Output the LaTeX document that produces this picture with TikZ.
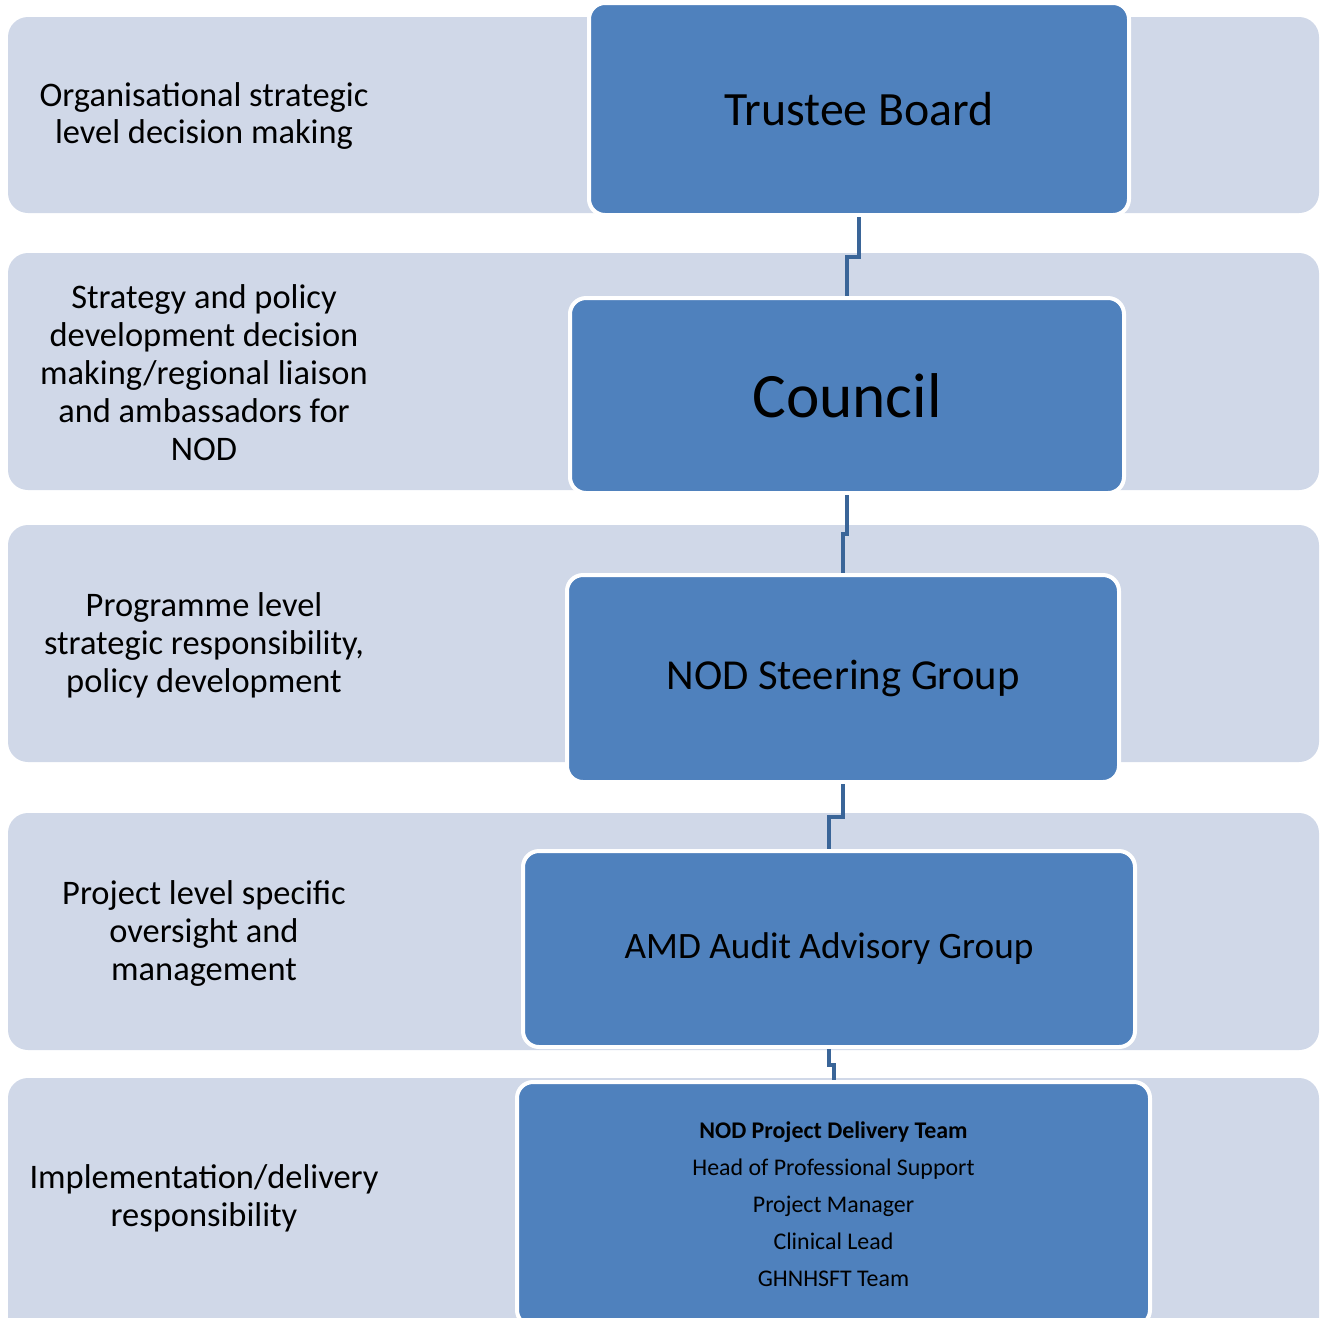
\documentclass[tikz,border=0pt]{standalone}
\usepackage{fontspec}
\setmainfont{Carlito}
\usepackage{xcolor}
\usetikzlibrary{calc}

\definecolor{bandgrey}{HTML}{D0D8E8}
\definecolor{boxblue}{HTML}{4F81BD}
\definecolor{linkblue}{HTML}{3A6598}

\begin{document}
\begin{tikzpicture}[x=0.1mm,y=-0.1mm,
    band/.style={fill=bandgrey,rounded corners=2mm},
    box/.style={rectangle,fill=boxblue,draw=white,line width=0.4mm,rounded corners=1.6mm,inner sep=0pt,align=center},
    lbl/.style={align=center,inner sep=0pt,font=\fontsize{9.8}{10.8}\selectfont},
    link/.style={draw=linkblue,line width=0.4mm}]
            \useasboundingbox (0,0) rectangle (1320,1317);
            \begin{scope}
            \clip (0,0) rectangle (1320,1317);

            % bands
            \fill[band] (8,17) rectangle (1319,213);
            \fill[band] (8,253) rectangle (1319,490);
            \fill[band] (8,525) rectangle (1319,762);
            \fill[band] (8,813) rectangle (1319,1050);
            \fill[band] (8,1078) rectangle (1319,1340);

            % boxes
            \node (tb) at (859,109) [box,minimum width=54mm,minimum height=21.2mm,font=\fontsize{13.6}{16}\selectfont] {Trustee Board};
            \node (co) at (847,395.5) [box,minimum width=55.4mm,minimum height=19.5mm,font=\fontsize{18}{21}\selectfont] {Council};
            \node (sg) at (843,678.5) [box,minimum width=55.2mm,minimum height=20.7mm,font=\fontsize{12.15}{14}\selectfont] {NOD Steering Group};
            \node (am) at (829,949) [box,minimum width=61.2mm,minimum height=19.6mm,font=\fontsize{10.6}{13}\selectfont] {AMD Audit Advisory Group};
            \node (dt) at (833.5,1204) [box,minimum width=63.3mm,minimum height=24.4mm,font=\fontsize{6.8}{10.5}\selectfont]
                {\textbf{NOD Project Delivery Team}\\Head of Professional Support\\Project Manager\\Clinical Lead\\GHNHSFT Team};

            % level descriptions
            \node (l1) at (204,116) [lbl] {Organisational strategic\\level decision making};
            \node (l2) at (204,373) [lbl] {Strategy and policy\\development decision\\making/regional liaison\\and ambassadors for\\NOD};
            \node (l3) at (204,645.5) [lbl] {Programme level\\strategic responsibility,\\policy development};
            \node (l4) at (204,933.5) [lbl] {Project level specific\\oversight and\\management};
            \node (l5) at (204,1198) [lbl] {Implementation/delivery\\responsibility};

            % connectors
            \draw[link] (tb.south) |- ($(tb.south)!.5!(co.north)$) -| (co.north);
            \draw[link] (co.south) |- ($(co.south)!.5!(sg.north)$) -| (sg.north);
            \draw[link] (sg.south) |- ($(sg.south)!.5!(am.north)$) -| (am.north);
            \draw[link] (am.south) |- ($(am.south)!.5!(dt.north)$) -| (dt.north);
            \end{scope}

        \end{tikzpicture}
\end{document}
